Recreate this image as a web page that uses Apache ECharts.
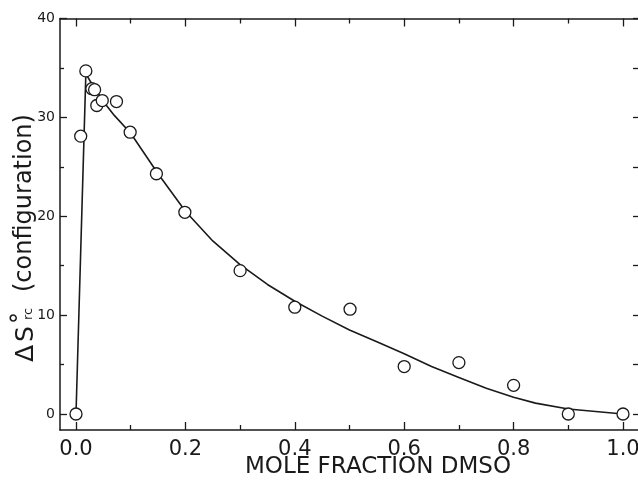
<!DOCTYPE html>
<html>
<head>
<meta charset="utf-8">
<script src="https://cdn.jsdelivr.net/npm/echarts@6/dist/echarts.min.js"></script>
<style>html,body{margin:0;padding:0;background:#fff}#c{width:638px;height:484px}</style>
</head>
<body>
<div id="c"></div>
<script>
// measured points (mole fraction DMSO, ΔS°rc configuration)
var pointX = [0, 0.0086, 0.018, 0.029, 0.034, 0.038, 0.048, 0.074, 0.099, 0.147, 0.199, 0.3, 0.4, 0.501, 0.6, 0.7, 0.8, 0.9, 1.0];
var pointY = [0, 28.1, 34.7, 32.9, 32.8, 31.2, 31.7, 31.6, 28.5, 24.3, 20.4, 14.5, 10.8, 10.6, 4.8, 5.2, 2.9, 0, 0];
// fitted curve
var curveX = [0, 0.018, 0.03, 0.05, 0.07, 0.1, 0.15, 0.2, 0.25, 0.3, 0.35, 0.4, 0.45, 0.5, 0.55, 0.6, 0.65, 0.7, 0.75, 0.8, 0.84, 0.9, 1.0];
var curveY = [0, 34.4, 33.3, 31.6, 30.2, 28.4, 24.3, 20.5, 17.5, 15.1, 13.1, 11.4, 9.9, 8.5, 7.3, 6.1, 4.8, 3.7, 2.6, 1.7, 1.1, 0.5, 0];
// ticks
var xMajor = [0, 0.2, 0.4, 0.6, 0.8, 1.0];
var xMinor = [0.1, 0.3, 0.5, 0.7, 0.9];
var yMajor = [0, 10, 20, 30, 40];
var yMinor = [5, 15, 25, 35];
var yRight = [0, 5, 10, 15, 20, 25, 30, 35, 40];
var xTitle = 'MOLE FRACTION DMSO';

var XMIN = -0.02925, XMAX = 1.02925, YMIN = -1.618, YMAX = 40;
var INK = '#1a1a1a';
var FONT = 'DejaVu Sans';

function zip(a, b) { return a.map(function (v, i) { return [v, b[i]]; }); }

function xAx(pos, ticks, len, showLine, labels) {
  return {
    type: 'value', position: pos, min: XMIN, max: XMAX,
    axisLine: { show: showLine, onZero: false, lineStyle: { color: INK, width: 1.5 } },
    axisTick: { show: true, inside: true, length: len, customValues: ticks, lineStyle: { color: INK, width: 1.3 } },
    axisLabel: labels ? { show: true, customValues: ticks, margin: 9, fontSize: 21, fontFamily: FONT, color: INK,
      formatter: function (v) { return (+v).toFixed(1); } } : { show: false },
    splitLine: { show: false }
  };
}
function yAx(pos, ticks, len, showLine, labels) {
  return {
    type: 'value', position: pos, min: YMIN, max: YMAX,
    axisLine: { show: showLine, onZero: false, lineStyle: { color: INK, width: 1.5 } },
    axisTick: { show: true, inside: true, length: len, customValues: ticks, lineStyle: { color: INK, width: 1.3 } },
    axisLabel: labels ? { show: true, customValues: ticks, margin: 5, fontSize: 14, fontFamily: FONT, color: INK,
      formatter: function (v) { return String(Math.round(v)); } } : { show: false },
    splitLine: { show: false }
  };
}

var chart = echarts.init(document.getElementById('c'), null, { renderer: 'canvas' });
var R = Math.PI / 2;
chart.setOption({
  animation: false,
  backgroundColor: '#fff',
  grid: { left: 60, top: 18.5, width: 579, height: 411.5, containLabel: false, outerBoundsMode: 'none' },
  xAxis: [
    xAx('bottom', xMajor, 8, true, true),
    xAx('bottom', xMinor, 5, false, false),
    xAx('top', xMajor, 8, true, false),
    xAx('top', xMinor, 5, false, false)
  ],
  yAxis: [
    yAx('left', yMajor, 7, true, true),
    yAx('left', yMinor, 4, false, false),
    yAx('right', yRight, 6, true, false)
  ],
  graphic: [
    { type: 'text', left: 245, top: 456, style: { text: xTitle, fontSize: 23, fontFamily: FONT, fill: INK } },
    { type: 'text', x: 26, y: 362, rotation: R, style: { text: 'Δ', fontSize: 25, fontFamily: FONT, fill: INK, align: 'left', verticalAlign: 'middle' } },
    { type: 'text', x: 26, y: 342, rotation: R, style: { text: 'S', fontSize: 25, fontFamily: FONT, fill: INK, align: 'left', verticalAlign: 'middle' } },
    { type: 'text', x: 22, y: 324, rotation: R, style: { text: '°', fontSize: 24, fontFamily: FONT, fill: INK, align: 'left', verticalAlign: 'middle' } },
    { type: 'text', x: 29, y: 320, rotation: R, style: { text: 'rc', fontSize: 13, fontFamily: FONT, fill: INK, align: 'left', verticalAlign: 'middle' } },
    { type: 'text', x: 25, y: 292, rotation: R, style: { text: '(configuration)', fontSize: 24, fontFamily: FONT, fill: INK, align: 'left', verticalAlign: 'middle' } }
  ],
  series: [
    { type: 'line', xAxisIndex: 0, yAxisIndex: 0, data: zip(curveX, curveY), showSymbol: false, symbol: 'none',
      lineStyle: { color: INK, width: 1.6 }, z: 2 },
    { type: 'scatter', xAxisIndex: 0, yAxisIndex: 0, data: zip(pointX, pointY), symbol: 'circle', symbolSize: 12,
      itemStyle: { color: '#fff', borderColor: INK, borderWidth: 1.3, opacity: 1 }, z: 3 }
  ]
});
</script>
</body>
</html>
